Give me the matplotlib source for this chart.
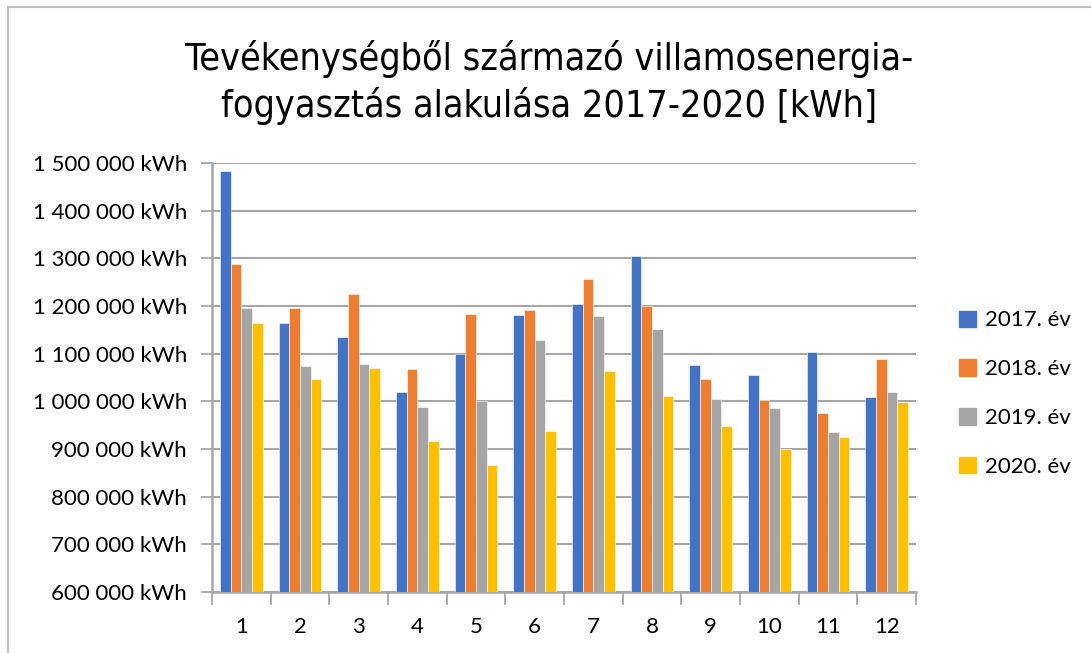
import matplotlib.pyplot as plt
from matplotlib.patches import Patch
from matplotlib.lines import Line2D
import numpy as np

# havi fogyasztás, kWh
months = [str(m) for m in range(1, 13)]
y2017 = [1483000, 1164000, 1134000, 1019000, 1099000, 1181000,
         1205000, 1304000, 1076000, 1055000, 1103000, 1010000]
y2018 = [1289000, 1195000, 1226000, 1068000, 1184000, 1191000,
         1257000, 1201000, 1046000, 1003000, 976000, 1089000]
y2019 = [1196000, 1074000, 1078000, 989000, 1000000, 1129000,
         1179000, 1152000, 1005000, 987000, 935000, 1020000]
y2020 = [1164000, 1047000, 1069000, 917000, 867000, 938000,
         1064000, 1012000, 949000, 899000, 925000, 999000]
series_labels = ["2017. év", "2018. év", "2019. év", "2020. év"]
yticks = list(range(600000, 1500001, 100000))

colors = ["#4472c4", "#ed7d31", "#a5a5a5", "#ffc000"]
grid_col = "#a6a6a6"

fig = plt.figure(figsize=(10.91, 6.53), dpi=100)
ax = fig.add_axes([0.1943, 0.0934, 0.6453, 0.657])

x = np.arange(len(months))
w = 0.182
series = [y2017, y2018, y2019, y2020]
for i, vals in enumerate(series):
    ax.bar(x + (i - 1.5) * w, vals, w, color=colors[i], zorder=3,
           edgecolor="white", linewidth=0.4, label=series_labels[i])

ax.set_xlim(-0.5, len(months) - 0.5)
ax.set_ylim(600000, 1500000)
ax.set_yticks(yticks)
ax.set_yticklabels([f"{v:,} kWh".replace(",", " ") for v in yticks],
                   fontsize=16, family="Lato")
ax.set_xticks(x)
ax.set_xticklabels(months, fontsize=16, family="Lato")
ax.tick_params(axis="x", which="major", length=0, pad=18)
ax.set_xticks(np.arange(-0.5, len(months), 1), minor=True)
ax.tick_params(axis="x", which="minor", length=9, width=1.3, color=grid_col)
ax.tick_params(axis="y", length=8, width=1.3, color=grid_col, pad=10)

ax.grid(axis="y", color=grid_col, linewidth=1.5, zorder=0)
for s in ["top", "right"]:
    ax.spines[s].set_visible(False)
for s in ["left", "bottom"]:
    ax.spines[s].set_color(grid_col)
    ax.spines[s].set_linewidth(1.8)

fig.text(0.503, 0.874, "Tevékenységből származó villamosenergia-\nfogyasztás alakulása 2017-2020 [kWh]",
         ha="center", va="center", fontsize=27, family="DejaVu Sans",
         fontstretch="condensed", linespacing=1.3)

handles = [Patch(color=c) for c in colors]
fig.legend(handles, series_labels, loc="center left", bbox_to_anchor=(0.861, 0.397),
           frameon=False, prop={"family": "Lato", "size": 16},
           handlelength=0.75, handleheight=0.75, handletextpad=0.4, labelspacing=1.3)

# keret
fig.add_artist(Line2D([0.0073, 0.0073], [0, 0.989], color="#bfbfbf", linewidth=1.5))
fig.add_artist(Line2D([0.0073, 1], [0.989, 0.989], color="#bfbfbf", linewidth=1.5))

fig.savefig("out.png", dpi=100)
